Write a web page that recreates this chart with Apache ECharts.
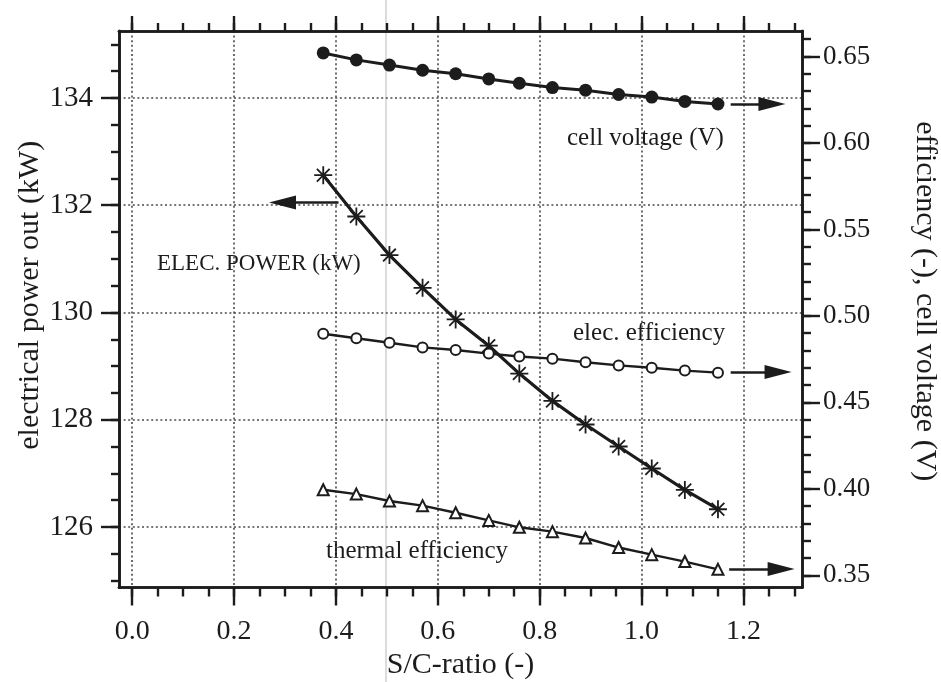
<!DOCTYPE html>
<html><head><meta charset="utf-8">
<script src="https://cdn.jsdelivr.net/npm/echarts@6/dist/echarts.min.js"></script>
<style>html,body{margin:0;padding:0;background:#fff}#c{width:941px;height:682px}</style>
</head><body><div id="c"></div>
<script>
// ---- data ----
const scRatio     = [0.375, 0.44, 0.505, 0.57, 0.635, 0.70, 0.76, 0.825, 0.89, 0.955, 1.02, 1.085, 1.15];
const cellVoltage = [0.652, 0.648, 0.645, 0.642, 0.640, 0.637, 0.6345, 0.632, 0.6305, 0.628, 0.6265, 0.624, 0.6225];
const elecPower   = [132.56, 131.79, 131.07, 130.46, 129.87, 129.38, 128.86, 128.35, 127.91, 127.50, 127.09, 126.69, 126.33];
const elecEff     = [0.4897, 0.4871, 0.4845, 0.4818, 0.4803, 0.4782, 0.4765, 0.4753, 0.4732, 0.4714, 0.4700, 0.4684, 0.4672];
const thermalEff  = [0.3995, 0.3970, 0.3930, 0.3903, 0.3862, 0.3818, 0.3778, 0.3753, 0.3716, 0.3661, 0.3620, 0.3580, 0.3535];

const xMajorTicks = [0.0, 0.2, 0.4, 0.6, 0.8, 1.0, 1.2];
const xMinorTicks = [0.0,0.05,0.1,0.15,0.2,0.25,0.3,0.35,0.4,0.45,0.5,0.55,0.6,0.65,0.7,0.75,0.8,0.85,0.9,0.95,1.0,1.05,1.1,1.15,1.2,1.25,1.3];
const leftMajorTicks = [126, 128, 130, 132, 134];
const leftMinorTicks = [125,125.5,126,126.5,127,127.5,128,128.5,129,129.5,130,130.5,131,131.5,132,132.5,133,133.5,134,134.5,135];
const rightMajorTicks = [0.35, 0.40, 0.45, 0.50, 0.55, 0.60, 0.65];
const rightMinorTicks = [0.35,0.36,0.37,0.38,0.39,0.40,0.41,0.42,0.43,0.44,0.45,0.46,0.47,0.48,0.49,0.50,0.51,0.52,0.53,0.54,0.55,0.56,0.57,0.58,0.59,0.60,0.61,0.62,0.63,0.64,0.65,0.66];

// annotation arrows: [x1, y1, x2, y2] in data units
const arrowCell    = [1.175, 0.6225, 1.256, 0.6225];
const arrowPower   = [0.405, 132.05, 0.295, 132.05];
const arrowElecEff = [1.175, 0.4676, 1.268, 0.4676];
const arrowThermal = [1.172, 0.3537, 1.274, 0.3537];

const X_MIN = -0.026, X_MAX = 1.315;
const L_MIN = 124.87, L_MAX = 135.25;
const R_MIN = 0.343,  R_MAX = 0.6647;

const serif = '"Liberation Serif", "DejaVu Serif", serif';
const ink = '#1c1c1c';
const gridStyle = {color: '#4a4a4a', width: 1.6, type: [2, 2.6]};
const starPath = 'path://M-0.1,-1L0.1,-1L0.1,1L-0.1,1Z M-1,-0.1L1,-0.1L1,0.1L-1,0.1Z M-0.636,-0.778L0.778,0.636L0.636,0.778L-0.778,-0.636Z M-0.778,0.636L0.636,-0.778L0.778,-0.636L-0.636,0.778Z';

function pairs(ys) { return scRatio.map((x, i) => [x, ys[i]]); }

function tickAxis(base, pos, ticks, len, extra) {
  return Object.assign({
    type: 'value', position: pos, min: base[0], max: base[1],
    axisLine: {show: true, onZero: false, lineStyle: {color: ink, width: 2.6}},
    axisTick: {show: true, inside: false, length: len, customValues: ticks, lineStyle: {color: ink, width: 2.4}},
    axisLabel: {show: false},
    splitLine: {show: false},
    minorTick: {show: false}
  }, extra || {});
}

function arrowLine(a) {
  return {
    silent: true, symbol: ['none', 'triangle'], symbolSize: [14, 27],
    label: {show: false},
    lineStyle: {color: ink, width: 2.6, type: 'solid'},
    emphasis: {disabled: true},
    data: [[{coord: [a[0], a[1]]}, {coord: [a[2], a[3]]}]]
  };
}

const chart = echarts.init(document.getElementById('c'));
chart.setOption({
  animation: false,
  backgroundColor: '#fff',
  grid: {left: 119, right: 139, top: 31, bottom: 94.5, containLabel: false, outerBoundsMode: 'none'},
  xAxis: [
    tickAxis([X_MIN, X_MAX], 'bottom', xMajorTicks, 18, {
      axisLabel: {show: true, customValues: xMajorTicks, margin: 30, color: ink,
        fontFamily: serif, fontSize: 28, formatter: v => v.toFixed(1)},
      splitLine: {show: true, lineStyle: gridStyle},
      name: 'S/C-ratio (-)', nameLocation: 'middle', nameGap: 63,
      nameTextStyle: {fontFamily: serif, fontSize: 30, color: ink}
    }),
    tickAxis([X_MIN, X_MAX], 'bottom', xMinorTicks, 9),
    tickAxis([X_MIN, X_MAX], 'top', xMajorTicks, 15),
    tickAxis([X_MIN, X_MAX], 'top', xMinorTicks, 8)
  ],
  yAxis: [
    tickAxis([L_MIN, L_MAX], 'left', leftMajorTicks, 18, {
      axisLabel: {show: true, customValues: leftMajorTicks, margin: 26, color: ink,
        fontFamily: serif, fontSize: 29, formatter: v => String(v)},
      splitLine: {show: true, lineStyle: gridStyle},
      name: 'electrical power out (kW)', nameLocation: 'middle', nameGap: 74, nameRotate: 90,
      nameMoveOverlap: false,
      nameTextStyle: {fontFamily: serif, fontSize: 30, color: ink, padding: [0, 0, 0, 28]}
    }),
    tickAxis([L_MIN, L_MAX], 'left', leftMinorTicks, 8),
    tickAxis([R_MIN, R_MAX], 'right', rightMajorTicks, 18, {
      axisLabel: {show: true, customValues: rightMajorTicks, margin: 21, color: ink,
        fontFamily: serif, fontSize: 27, formatter: v => v.toFixed(2)},
      name: 'efficiency (-), cell voltage (V)', nameLocation: 'middle', nameGap: 108, nameRotate: -90,
      nameTextStyle: {fontFamily: serif, fontSize: 30, color: ink, padding: [0, 16, 0, 0]}
    }),
    tickAxis([R_MIN, R_MAX], 'right', rightMinorTicks, 9)
  ],
  series: [
    {
      name: 'cell voltage (V)', type: 'line', xAxisIndex: 0, yAxisIndex: 2,
      data: pairs(cellVoltage), symbol: 'circle', symbolSize: 13,
      lineStyle: {color: ink, width: 3}, itemStyle: {color: ink},
      markLine: arrowLine(arrowCell), z: 5
    },
    {
      name: 'ELEC. POWER (kW)', type: 'line', xAxisIndex: 0, yAxisIndex: 0,
      data: pairs(elecPower), symbol: starPath, symbolSize: 18,
      lineStyle: {color: ink, width: 3.2}, itemStyle: {color: ink},
      markLine: arrowLine(arrowPower), z: 5
    },
    {
      name: 'elec. efficiency', type: 'line', xAxisIndex: 0, yAxisIndex: 2,
      data: pairs(elecEff), symbol: 'emptyCircle', symbolSize: 10,
      lineStyle: {color: ink, width: 2.4}, itemStyle: {color: ink, borderColor: ink, borderWidth: 1.6},
      markLine: arrowLine(arrowElecEff), z: 5
    },
    {
      name: 'thermal efficiency', type: 'line', xAxisIndex: 0, yAxisIndex: 2,
      data: pairs(thermalEff), symbol: 'emptyTriangle', symbolSize: 11,
      lineStyle: {color: ink, width: 2.4}, itemStyle: {color: ink, borderColor: ink, borderWidth: 1.6},
      markLine: arrowLine(arrowThermal), z: 5
    }
  ],
  graphic: [
    {type: 'line', silent: true, z: -10, shape: {x1: 386, y1: 0, x2: 386, y2: 682}, style: {stroke: '#c4c4c4', lineWidth: 1.2}},
    {type: 'text', silent: true, x: 567, y: 138, style: {text: 'cell voltage (V)', font: '25px ' + serif, fill: ink, verticalAlign: 'middle', textVerticalAlign: 'middle'}},
    {type: 'text', silent: true, x: 157, y: 264, style: {text: 'ELEC. POWER (kW)', font: '23px ' + serif, fill: ink, verticalAlign: 'middle', textVerticalAlign: 'middle'}},
    {type: 'text', silent: true, x: 573, y: 333, style: {text: 'elec. efficiency', font: '25px ' + serif, fill: ink, verticalAlign: 'middle', textVerticalAlign: 'middle'}},
    {type: 'text', silent: true, x: 326, y: 551, style: {text: 'thermal efficiency', font: '25px ' + serif, fill: ink, verticalAlign: 'middle', textVerticalAlign: 'middle'}}
  ]
});
</script>
</body></html>
